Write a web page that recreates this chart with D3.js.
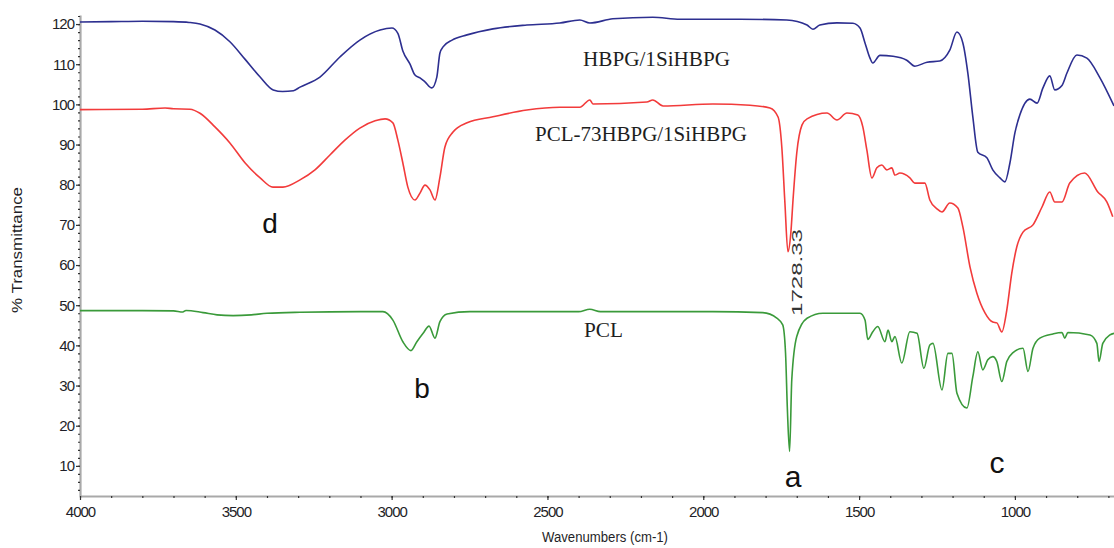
<!DOCTYPE html>
<html>
<head>
<meta charset="utf-8">
<script src="https://cdn.jsdelivr.net/npm/d3@7/dist/d3.min.js"></script>
<style>
  html, body { margin: 0; padding: 0; background: #fff; }
  svg { display: block; }
</style>
</head>
<body>
<svg id="chart" width="1114" height="548"></svg>
<script>
// FTIR spectra: [wavenumber (cm-1), % transmittance]
const hbpgSpectrum = [
  [4000,120.5],[3900,120.6],[3800,120.7],[3700,120.6],[3650,120.4],[3615,120.0],[3567,118.5],
  [3519,115.6],[3470,111.2],[3422,106.8],[3380,103.6],[3350,103.2],[3315,103.4],[3294,104.3],
  [3230,106.8],[3166,111.8],[3102,116.0],[3037,118.5],[2999,119.0],[2980,117.7],[2964,113.3],
  [2941,110.0],[2925,107.3],[2909,106.6],[2893,105.6],[2871,104.1],[2855,106.8],[2845,112.8],
  [2835,114.3],[2806,116.0],[2758,117.3],[2675,118.8],[2566,119.75],[2460,120.25],[2396,121.0],
  [2364,120.25],[2290,121.3],[2162,121.7],[2075,121.2],[1882,121.2],[1732,121.0],[1667,119.75],
  [1648,118.7],[1626,119.75],[1571,120.3],[1520,120.2],[1497,119.0],[1481,115.3],[1465,111.5],
  [1456,110.3],[1433,112.2],[1391,112.0],[1347,111.0],[1321,109.5],[1282,110.5],[1241,110.8],
  [1209,113.5],[1186,118.0],[1167,115.3],[1151,107.8],[1135,96.9],[1119,88.1],[1090,86.7],
  [1071,83.7],[1048,81.7],[1032,80.7],[1016,85.4],[1000,92.9],[984,97.4],[952,101.3],
  [929,100.3],[910,104.1],[888,107.1],[872,103.6],[849,104.7],[833,107.8],[801,112.3],
  [769,111.5],[727,106.6],[682,99.6]
];

const blendSpectrum = [
  [4000,98.7],[3800,98.8],[3727,99.1],[3700,98.9],[3647,98.8],[3615,97.8],[3567,94.4],
  [3519,90.4],[3470,85.4],[3422,81.7],[3381,79.4],[3349,79.4],[3294,81.2],[3246,83.7],
  [3198,87.4],[3150,91.1],[3102,94.1],[3053,95.9],[3021,96.4],[2996,95.4],[2980,91.1],
  [2964,85.4],[2948,79.4],[2925,76.2],[2909,77.9],[2893,79.9],[2877,78.7],[2861,76.2],
  [2845,81.9],[2829,89.4],[2803,93.1],[2758,95.4],[2675,96.9],[2566,98.6],[2460,99.3],
  [2396,99.3],[2364,101.1],[2354,100.1],[2181,100.6],[2162,101.1],[2129,99.6],[1969,100.1],
  [1850,99.8],[1786,99.1],[1760,96.85],[1748,89.4],[1738,75.45],[1728.33,63.3],[1719,68.0],
  [1712,76.2],[1700,87.9],[1683,94.9],[1667,96.4],[1603,97.85],[1571,96.1],[1539,97.85],
  [1504,97.35],[1488,94.4],[1475,88.6],[1459,81.7],[1443,84.2],[1427,84.9],[1411,83.7],
  [1395,84.2],[1385,82.4],[1369,82.9],[1337,81.7],[1321,80.4],[1289,80.4],[1273,76.2],
  [1250,74.0],[1234,73.2],[1209,75.45],[1183,74.2],[1167,69.5],[1144,59.5],[1122,53.0],
  [1096,48.1],[1071,45.8],[1058,45.6],[1042,43.35],[1026,48.8],[1010,58.0],[994,64.5],
  [974,68.2],[942,70.0],[913,74.45],[888,78.2],[872,75.7],[849,75.7],[824,80.4],[776,82.9],
  [734,78.2],[705,75.7],[686,72.0]
];

const pclSpectrum = [
  [4000,48.65],[3800,48.65],[3700,48.6],[3670,48.3],[3660,48.7],[3605,48.15],[3560,47.6],
  [3509,47.4],[3450,47.6],[3400,48.0],[3294,48.25],[3100,48.4],[3028,48.4],[2996,46.3],
  [2964,40.9],[2938,38.7],[2919,40.9],[2899,43.0],[2880,44.8],[2861,41.8],[2845,45.9],
  [2822,47.8],[2749,48.4],[2502,48.4],[2400,48.4],[2364,49.0],[2330,48.4],[2181,48.4],
  [1969,48.4],[1809,48.15],[1764,46.8],[1745,45.1],[1736,38.1],[1730,23.9],[1723,13.6],
  [1716,31.4],[1700,42.2],[1667,46.75],[1616,48.0],[1497,48.0],[1481,46.3],[1472,41.5],
  [1456,43.4],[1440,44.7],[1417,40.9],[1407,43.8],[1395,40.9],[1385,42.2],[1363,35.6],
  [1337,43.4],[1314,43.0],[1292,34.3],[1273,40.1],[1263,40.5],[1234,28.9],[1215,38.0],
  [1202,38.0],[1186,28.1],[1154,24.4],[1135,32.2],[1119,38.4],[1103,33.9],[1087,36.4],
  [1071,37.2],[1058,36.0],[1042,31.0],[1026,36.0],[1006,38.2],[974,39.3],[958,33.5],
  [942,39.3],[920,41.8],[878,42.85],[849,43.2],[840,41.8],[830,43.2],[759,42.6],[737,40.5],
  [730,36.0],[718,40.5],[695,42.6],[682,43.0]
];

const xTicks = [4000, 3500, 3000, 2500, 2000, 1500, 1000];
const yTicks = [10, 20, 30, 40, 50, 60, 70, 80, 90, 100, 110, 120];
const xMinorTicks = d3.range(4000, 650, -100);
const yMinorTicks = d3.range(4, 123, 2);

const seriesNames = ["HBPG/1SiHBPG", "PCL-73HBPG/1SiHBPG", "PCL"];
const bandLetters = ["d", "b", "a", "c"];
const peakLabel = "1728.33";

const svg = d3.select("#chart");
const frame = { left: 80, right: 1114, top: 15, bottom: 496 };

const x = d3.scaleLinear().domain([4000, 682]).range([frame.left, frame.right]);
const y = d3.scaleLinear().domain([2.5, 122.25]).range([frame.bottom, frame.top]);

const axisColor = "#a9a9a9";
const labelFont = "Arial, 'Liberation Sans', sans-serif";
function styleAxis(g) {
  g.select(".domain").attr("stroke", axisColor).attr("stroke-width", 2.2);
  g.selectAll(".tick line").attr("stroke", "#333").attr("stroke-width", 1.2);
  g.selectAll(".tick text")
    .attr("fill", "#1f1f28")
    .style("font-family", labelFont)
    .style("font-size", "15px")
    .style("letter-spacing", "-1px");
}

// minor ticks (tiny dots on the axis lines)
svg.append("g")
  .attr("transform", `translate(0,${frame.bottom})`)
  .call(d3.axisBottom(x).tickValues(xMinorTicks).tickSize(2).tickSizeOuter(0).tickFormat(""))
  .call(styleAxis);

svg.append("g")
  .attr("transform", `translate(${frame.left},0)`)
  .call(d3.axisLeft(y).tickValues(yMinorTicks).tickSize(2).tickSizeOuter(0).tickFormat(""))
  .call(styleAxis);

// major ticks with labels
const xAxis = svg.append("g")
  .attr("transform", `translate(0,${frame.bottom})`)
  .call(d3.axisBottom(x).tickValues(xTicks).tickSize(4).tickSizeOuter(0).tickPadding(6).tickFormat(d3.format("d")))
  .call(styleAxis);
xAxis.select(".domain").remove();

const yAxis = svg.append("g")
  .attr("transform", `translate(${frame.left},0)`)
  .call(d3.axisLeft(y).tickValues(yTicks).tickSize(4).tickSizeOuter(0).tickPadding(2).tickFormat(d3.format("d")))
  .call(styleAxis);
yAxis.select(".domain").remove();

// axis titles
svg.append("text")
  .attr("x", 605).attr("y", 542)
  .attr("text-anchor", "middle")
  .attr("fill", "#1f1f28")
  .style("font-family", labelFont)
  .style("font-size", "14px")
  .attr("textLength", 126).attr("lengthAdjust", "spacingAndGlyphs")
  .text("Wavenumbers (cm-1)");

svg.append("text")
  .attr("transform", "translate(22,250) rotate(-90)")
  .attr("text-anchor", "middle")
  .attr("fill", "#1f1f28")
  .style("font-family", labelFont)
  .style("font-size", "14px")
  .attr("textLength", 126).attr("lengthAdjust", "spacingAndGlyphs")
  .text("% Transmittance");

// spectra
const line = d3.line().x(d => x(d[0])).y(d => y(d[1])).curve(d3.curveMonotoneX);
const plot = svg.append("g");
[
  { data: hbpgSpectrum, color: "#2d2f90" },
  { data: blendSpectrum, color: "#f23b3b" },
  { data: pclSpectrum, color: "#3a9a3a" }
].forEach(s => {
  plot.append("path")
    .datum(s.data)
    .attr("fill", "none")
    .attr("stroke", s.color)
    .attr("stroke-width", 1.6)
    .attr("stroke-linejoin", "round")
    .attr("d", line);
});

// series names
const serif = "'Times New Roman', 'Liberation Serif', serif";
const nameSpecs = [
  { text: seriesNames[0], x: 583, y: 66, len: 147 },
  { text: seriesNames[1], x: 535, y: 141, len: 212 },
  { text: seriesNames[2], x: 584, y: 337, len: 39 }
];
nameSpecs.forEach(n => {
  svg.append("text")
    .attr("x", n.x).attr("y", n.y)
    .attr("fill", "#1e1e1e")
    .style("font-family", serif)
    .style("font-size", "21px")
    .attr("textLength", n.len).attr("lengthAdjust", "spacingAndGlyphs")
    .text(n.text);
});

// band letters
const letterSpecs = [
  { text: bandLetters[0], x: 270, y: 233, size: 28 },
  { text: bandLetters[1], x: 422, y: 398, size: 28 },
  { text: bandLetters[2], x: 793, y: 487, size: 30 },
  { text: bandLetters[3], x: 997, y: 473, size: 30 }
];
letterSpecs.forEach(l => {
  svg.append("text")
    .attr("x", l.x).attr("y", l.y)
    .attr("text-anchor", "middle")
    .attr("fill", "#111")
    .style("font-family", labelFont)
    .style("font-size", l.size + "px")
    .text(l.text);
});

// peak annotation
svg.append("text")
  .attr("transform", `translate(${x(1728.33) + 14},316) rotate(-90)`)
  .attr("fill", "#333")
  .style("font-family", labelFont)
  .style("font-size", "15px")
  .attr("textLength", 87).attr("lengthAdjust", "spacingAndGlyphs")
  .text(peakLabel);
</script>
</body>
</html>
